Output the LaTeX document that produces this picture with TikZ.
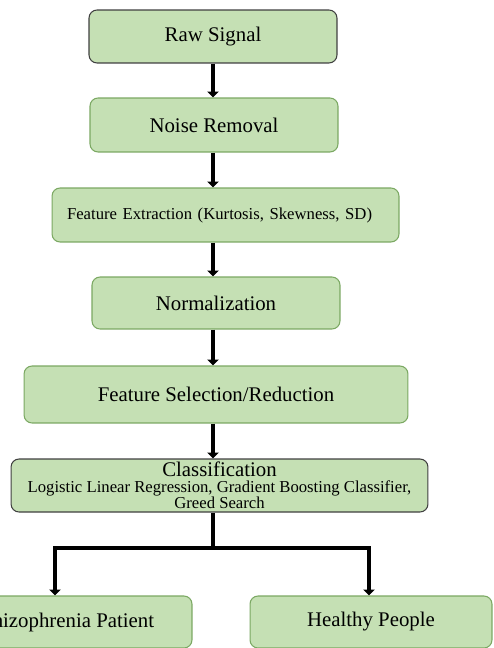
\documentclass[tikz,border=0pt]{standalone}
\usepackage{fontspec}
\setmainfont{Liberation Serif}
\usetikzlibrary{arrows.meta}

\definecolor{boxfill}{HTML}{C5E0B4}
\definecolor{boxline}{HTML}{7BA862}
\definecolor{darkline}{HTML}{404040}

\begin{document}
\begin{tikzpicture}[x=0.02cm, y=-0.02cm,
        stage/.style={draw=boxline, line width=0.6pt, fill=boxfill, rounded corners=0.16cm,
            inner sep=0pt, font=\fontsize{11.85}{14}\selectfont},
        flow/.style={line width=2.3pt, -{Triangle[length=3.4pt,width=6.5pt]}},
        link/.style={line width=2.3pt}]
                \useasboundingbox (0,0) rectangle (493,648);
                \coordinate (spine) at (213,0);

                % Pipeline stages
                \node[stage, draw=darkline, minimum width=4.96cm, minimum height=1.06cm] (raw) at (213,36.5) {Raw Signal};
                \node[stage, minimum width=4.96cm, minimum height=1.08cm] (noise) at (214,125) {Noise Removal};
                \node[stage, text width=6.34cm, inner xsep=0.3cm, align=left, minimum height=1.08cm,
                    font=\fontsize{9.5}{11}\selectfont] (feat) at (225.5,215) {Feature Extraction (Kurtosis, Skewness, SD)};
                \node[stage, minimum width=4.96cm, minimum height=1.04cm] (norm) at (216,303) {Normalization};
                \node[stage, minimum width=7.68cm, minimum height=1.14cm] (sel) at (216,394.5) {Feature Selection/Reduction};
                \node[stage, draw=darkline, minimum width=8.34cm, minimum height=1.06cm, align=center,
                    font=\fontsize{9.5}{9.1}\selectfont] (cls) at (219.5,485.5)
                    {{\fontsize{11.85}{14}\selectfont Classification}\\
                     Logistic Linear Regression, Gradient Boosting Classifier,\\
                     Greed Search};

                % Outcomes
                \node[stage, minimum width=5.16cm, minimum height=1.04cm] (sch) at (63,622) {Schizophrenia Patient};
                \node[stage, minimum width=4.84cm, minimum height=1.04cm] (hea) at (371,622) {Healthy People};

                % Arrows
                \foreach \a/\b in {raw/noise, noise/feat, feat/norm, norm/sel, sel/cls}
                    \draw[flow] (\a.south -| spine) -- (\b.north -| spine);

                % Split to the two outcomes
                \coordinate (fork) at (213,548);
                \coordinate (forkL) at (55,548);
                \coordinate (forkR) at (369,548);
                \draw[link] (cls.south -| fork) -- (fork);
                \draw[flow] (fork) -| (sch.north -| forkL);
                \draw[flow] (fork) -| (hea.north -| forkR);
            \end{tikzpicture}
\end{document}
